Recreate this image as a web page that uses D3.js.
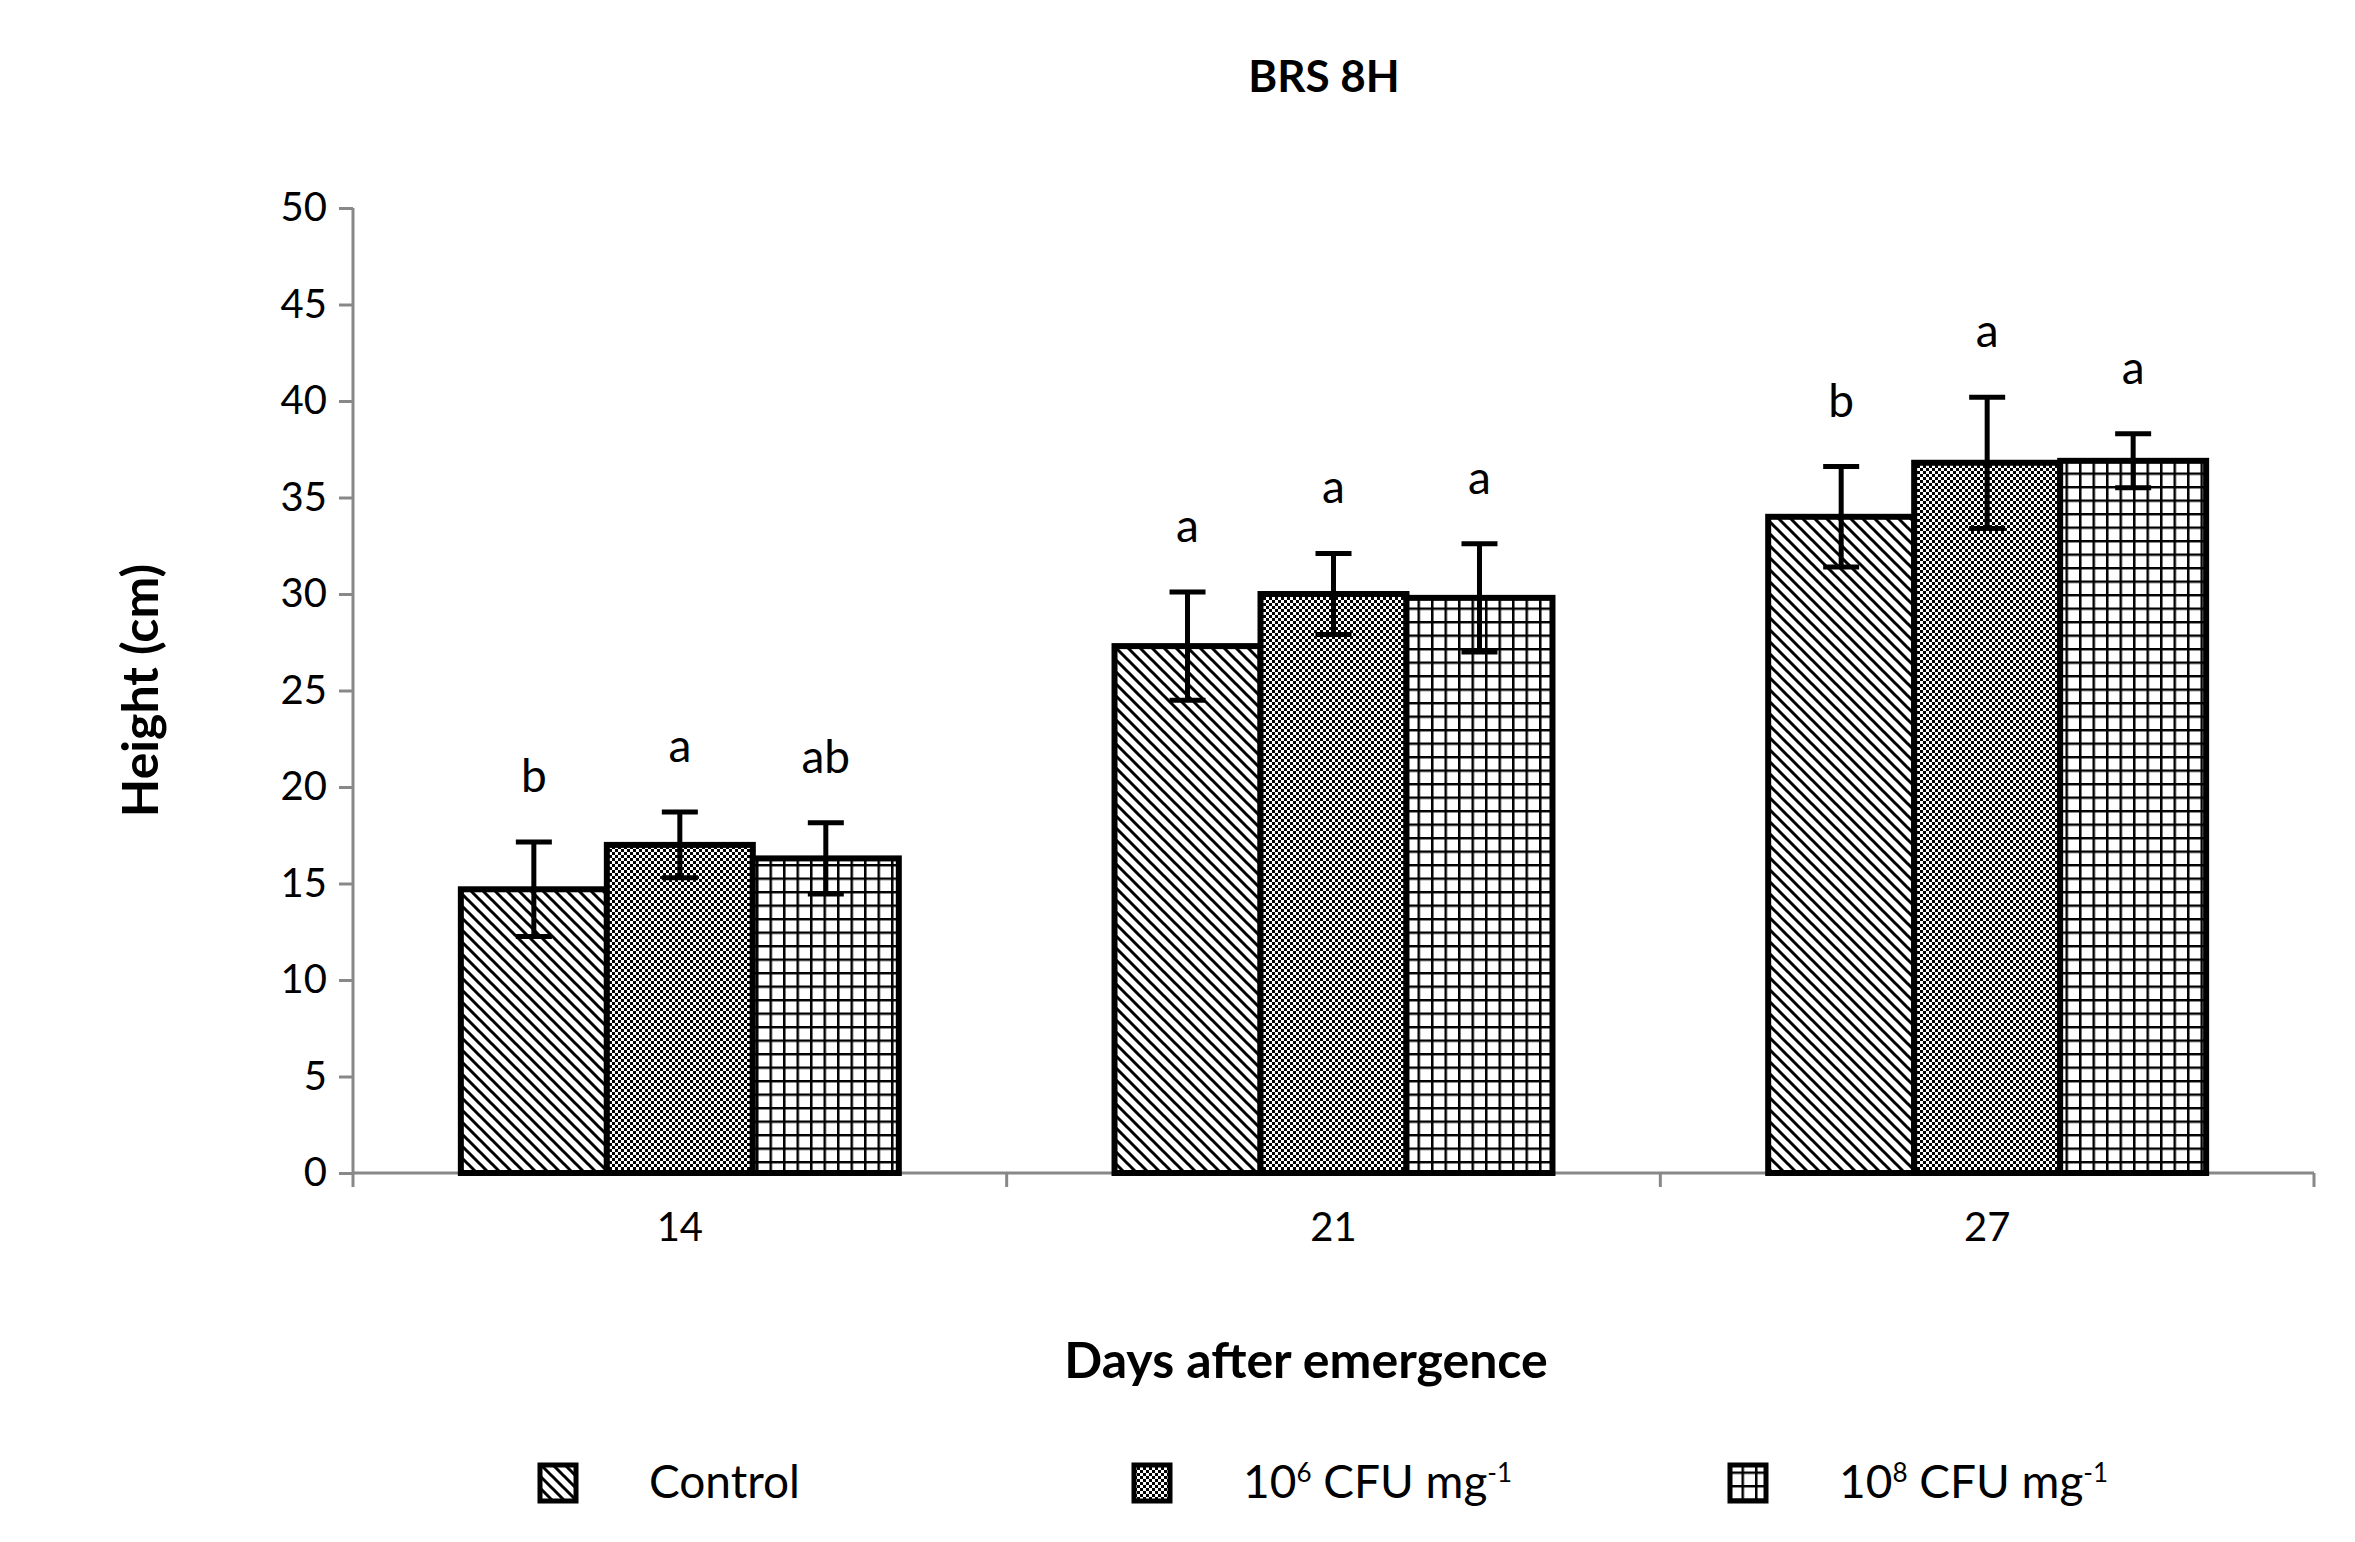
<!DOCTYPE html>
<html><head><meta charset="utf-8">
<script src="https://cdn.jsdelivr.net/npm/d3@7"></script>
<style>body{margin:0;background:#fff}text{font-family:Lato,"Open Sans",sans-serif}</style>
</head><body>
<svg id="c" width="2355" height="1542"></svg>
<script>
var days = ['14', '21', '27'];
var series = ['Control', '10^6', '10^8'];
var control = [14.7, 27.3, 34.0];
var cfu6 = [17.0, 30.0, 36.8];
var cfu8 = [16.3, 29.8, 36.9];
var errControl = [2.45, 2.8, 2.6];
var errCfu6 = [1.7, 2.1, 3.4];
var errCfu8 = [1.85, 2.8, 1.4];
var letterControl = ['b', 'a', 'b'];
var letterCfu6 = ['a', 'a', 'a'];
var letterCfu8 = ['ab', 'a', 'a'];
var yTicks = [0, 5, 10, 15, 20, 25, 30, 35, 40, 45, 50];

var values = [control, cfu6, cfu8], errs = [errControl, errCfu6, errCfu8],
    letters = [letterControl, letterCfu6, letterCfu8];

var svg = d3.select('#c');
var defs = svg.append('defs');

// fill patterns
var p0 = defs.append('pattern').attr('id', 'p0').attr('patternUnits', 'userSpaceOnUse')
    .attr('width', 12).attr('height', 12);
p0.append('rect').attr('width', 12).attr('height', 12).attr('fill', '#fff');
p0.append('path').attr('d', 'M0,0L12,12M-6,6L6,18M6,-6L18,6').attr('stroke', '#000').attr('stroke-width', 3);
var p1 = defs.append('pattern').attr('id', 'p1').attr('patternUnits', 'userSpaceOnUse')
    .attr('width', 6).attr('height', 6);
p1.append('rect').attr('width', 6).attr('height', 6).attr('fill', '#fff');
p1.append('rect').attr('width', 3).attr('height', 3).attr('fill', '#000');
p1.append('rect').attr('x', 3).attr('y', 3).attr('width', 3).attr('height', 3).attr('fill', '#000');
var p2 = defs.append('pattern').attr('id', 'p2').attr('patternUnits', 'userSpaceOnUse')
    .attr('width', 13.5).attr('height', 13.5);
p2.append('rect').attr('width', 13.5).attr('height', 13.5).attr('fill', '#fff');
p2.append('path').attr('d', 'M0,0H13.5M0,0V13.5').attr('stroke', '#000').attr('stroke-width', 5);

var plotLeft = 353, plotRight = 2314, plotTop = 208, plotBottom = 1173;
var x = d3.scaleBand().domain(days).range([plotLeft, plotRight]).paddingInner(0.33).paddingOuter(0.165);
var xs = d3.scaleBand().domain([0, 1, 2]).range([0, x.bandwidth()]);
var y = d3.scaleLinear().domain([0, 50]).range([plotBottom, plotTop]);

// axes
var ya = svg.append('g').attr('transform', 'translate(' + plotLeft + ',0)')
    .call(d3.axisLeft(y).tickValues(yTicks).tickSize(14).tickPadding(12));
ya.selectAll('line,path').attr('stroke', '#888').attr('stroke-width', 3);
ya.select('path').attr('d', 'M0,' + plotTop + 'V' + plotBottom);
ya.selectAll('text').attr('font-size', 40).attr('fill', '#000');

var xa = svg.append('g').attr('transform', 'translate(0,' + plotBottom + ')')
    .call(d3.axisBottom(x).tickSize(0).tickPadding(40));
xa.select('path').attr('stroke', '#888').attr('stroke-width', 3).attr('d', 'M' + plotLeft + ',0H' + plotRight);
xa.selectAll('text').attr('font-size', 40).attr('fill', '#000');
var step = x.step();
xa.selectAll('.bnd').data(d3.range(4)).enter().append('line')
    .attr('x1', function (i) { return plotLeft + i * step; }).attr('x2', function (i) { return plotLeft + i * step; })
    .attr('y1', 0).attr('y2', 14).attr('stroke', '#888').attr('stroke-width', 3);

// bars
var g = svg.append('g');
values.forEach(function (vals, s) {
    days.forEach(function (d, i) {
        var bx = x(d) + xs(s), bw = xs.bandwidth(), cx = bx + bw / 2;
        g.append('rect').attr('x', bx).attr('y', y(vals[i])).attr('width', bw)
            .attr('height', y(0) - y(vals[i])).attr('fill', 'url(#p' + s + ')')
            .attr('stroke', '#000').attr('stroke-width', 6);
        var hi = y(vals[i] + errs[s][i]), lo = y(vals[i] - errs[s][i]);
        g.append('path').attr('d', 'M' + cx + ',' + hi + 'V' + lo + 'M' + (cx - 18) + ',' + hi + 'H' + (cx + 18) +
            'M' + (cx - 18) + ',' + lo + 'H' + (cx + 18)).attr('stroke', '#000').attr('stroke-width', 5).attr('fill', 'none');
        g.append('text').attr('x', cx).attr('y', hi - 50).attr('text-anchor', 'middle')
            .attr('font-size', 46).text(letters[s][i]);
    });
});

// titles
svg.append('text').attr('x', 1324).attr('y', 92).attr('text-anchor', 'middle')
    .attr('font-size', 44).attr('font-weight', 'bold').text('BRS 8H');
svg.append('text').attr('x', 1306).attr('y', 1378).attr('text-anchor', 'middle')
    .attr('font-size', 50).attr('font-weight', 'bold').text('Days after emergence');
svg.append('text').attr('transform', 'translate(158,' + y(25) + ') rotate(-90)').attr('text-anchor', 'middle')
    .attr('font-size', 50).attr('font-weight', 'bold').text('Height (cm)');

// legend
var lx = [558, 1152, 1748];
var lg = svg.append('g');
series.forEach(function (s, i) {
    lg.append('rect').attr('x', lx[i] - 18).attr('y', 1465).attr('width', 36).attr('height', 36)
        .attr('fill', 'url(#p' + i + ')').attr('stroke', '#000').attr('stroke-width', 5);
    var t = lg.append('text').attr('x', lx[i] + 91).attr('y', 1498).attr('font-size', 46);
    if (i === 0) { t.text(s); return; }
    t.append('tspan').text('10');
    t.append('tspan').attr('dy', -16).attr('font-size', 26).text(s.split('^')[1]);
    t.append('tspan').attr('dy', 16).text(' CFU mg');
    t.append('tspan').attr('dy', -16).attr('font-size', 26).text('-1');
});
</script>
</body></html>
